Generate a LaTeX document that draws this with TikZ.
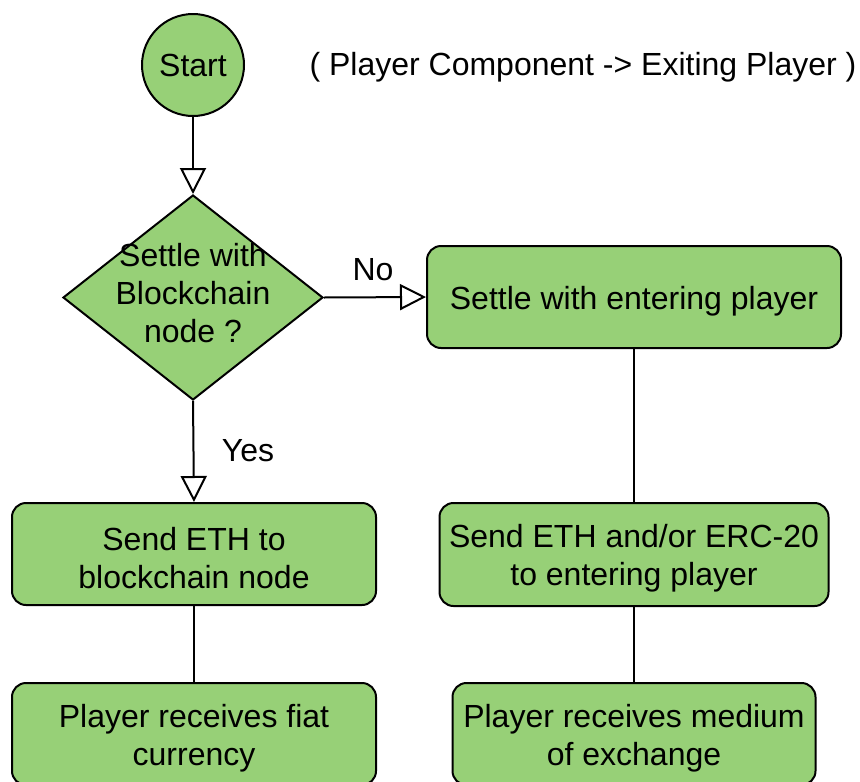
\documentclass[tikz,border=0pt]{standalone}
\usepackage{fontspec}
\setmainfont{Liberation Sans}
\usetikzlibrary{shapes.geometric,arrows.meta}
\definecolor{leaf}{HTML}{97D077}
% extra room above the first text line of a box
\newcommand\toppad{\rule{0pt}{31pt}}
\tikzset{
  base/.style={draw=black, line width=2pt, fill=leaf, font=\fontsize{32}{38}\selectfont},
  proc/.style={base, rectangle, rounded corners=14pt, align=center, inner sep=0pt},
  label/.style={font=\fontsize{32}{38}\selectfont, align=center, inner sep=0pt},
  link/.style={line width=2pt, draw=black},
  flow/.style={link, -{Triangle[open, length=26pt, width=26pt]}, fill=white},
}
\begin{document}
\begin{tikzpicture}[x=1pt, y=-1pt]
  \clip (0,0) rectangle (860,782);
  \fill[white] (0,0) rectangle (860,782);

  % start terminal and caption
  \node[base, circle, minimum size=102pt, inner sep=0pt] (start) at (193,65) {Start};
  \node[label] (title) at (583,67) {( Player Component -> Exiting Player )};

  % decision
  \node[base, diamond, minimum width=260pt, minimum height=205pt, inner sep=0pt] (dec) at (193,297.5) {};
  \node[label] (dectext) at (193,293) {Settle with\\Blockchain\\node ?};

  % process boxes
  \node[proc, minimum width=414pt, minimum height=102pt] (settle) at (634,297) {\toppad Settle with entering player};
  \node[proc, minimum width=364pt, minimum height=102pt] (sendL) at (194,554) {\toppad Send ETH to\\blockchain node};
  \node[proc, minimum width=389pt, minimum height=103pt] (sendR) at (634,554.5) {\toppad Send ETH and/or ERC-20\\to entering player};
  \node[proc, minimum width=364pt, minimum height=102pt] (recvL) at (194,734) {\toppad Player receives fiat\\currency};
  \node[proc, minimum width=363pt, minimum height=102pt] (recvR) at (634,734) {\toppad Player receives medium\\of exchange};

  % connectors
  \draw[flow] (start.south) -- (dec.north);
  \draw[flow] (dec.east) -- (settle.west);
  \draw[flow] (dec.south) -- (sendL.north);
  \draw[link] (settle.south) -- (sendR.north);
  \draw[link] (sendL.south) -- (recvL.north);
  \draw[link] (sendR.south) -- (recvR.north);

  % branch labels
  \node[label] (no) at (373,270) {No};
  \node[label] (yes) at (248,451) {Yes};
\end{tikzpicture}
\end{document}
